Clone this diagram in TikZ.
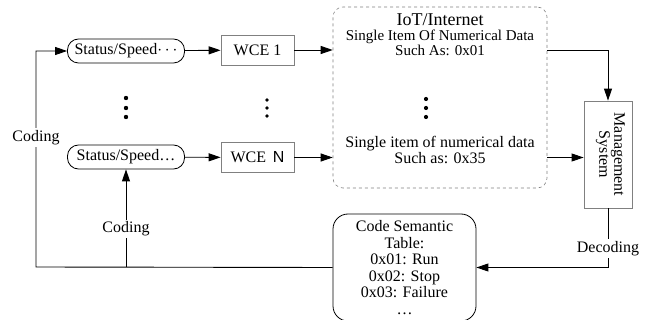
\documentclass[tikz,border=0pt]{standalone}
\usepackage{fontspec}
\setmainfont{Liberation Serif}
\newfontfamily\arialfont{Liberation Sans}
\usetikzlibrary{arrows.meta, positioning, calc}

\begin{document}
\begin{tikzpicture}[x=1pt, y=-1pt,
    font=\fontsize{16}{17}\selectfont,
    every node/.style={inner sep=0pt},
    arr/.style={-{Triangle[length=12pt, width=8pt]}, line width=0.9pt},
    pill/.style={draw, rounded corners=11pt, minimum width=117pt,
                 minimum height=24pt, line width=0.8pt},
    wce/.style={draw=gray, minimum width=73pt, minimum height=30pt, line width=0.8pt},
    lbl/.style={fill=white, inner sep=2pt}]
  \useasboundingbox (0,0) rectangle (652,320);

  % sources and encoders
  \node[pill] (s1) at (126,51) {Status/Speed$\cdots$};
  \node[wce] (w1) at (257.5,50) {WCE 1};
  \node[pill] (sN) at (126,157) {Status/Speed…};
  \node[wce] (wN) at (257.5,157.5) {WCE\ \,{\arialfont N}};

  % network
  \node[draw=gray, dashed, rounded corners=10pt, minimum width=214pt,
        minimum height=181pt, line width=0.6pt] (iot) at (440,97.5) {};
  \node[align=center, font=\fontsize{15}{15}\selectfont] (iothead) at (440,35)
    {{\fontsize{18}{15}\selectfont IoT/Internet}\\Single Item Of Numerical Data\\Such As: 0x01};
  \node[align=center, font=\fontsize{16}{16}\selectfont] (iotfoot) at (440,150)
    {Single item of numerical data\\Such as: 0x35};

  \foreach \y in {98,108,117} \fill (126,\y) circle[radius=2.2pt];
  \foreach \y in {100,108,116} \fill (267,\y) circle[radius=1.8pt];
  \foreach \y in {99,108,117} \fill (426,\y) circle[radius=2.1pt];

  % management side
  \node[draw=gray, minimum width=48pt, minimum height=107pt, line width=0.8pt] (ms) at (608,154.5) {};
  \node[rotate=-90, align=center, font=\fontsize{16}{15}\selectfont] (mstxt) at (610.5,154.5)
    {Management\\System};
  \node[draw, rounded corners=15pt, minimum width=143pt, minimum height=107pt,
        align=center, font=\fontsize{16}{16.6}\selectfont, line width=0.8pt] (cst) at (404.5,267.5)
    {Code Semantic\\Table:\\0x01: Run\\0x02: Stop\\0x03: Failure\\…};

  \coordinate (fbk) at (36,267);

  \draw[arr] (s1) -- (w1);
  \draw[arr] (sN) -- (wN);
  \draw[arr] (w1.east) -- (iot.west |- w1);
  \draw[arr] (wN.east) -- (iot.west |- wN);
  \draw[arr] (iot.east |- w1) -| (ms.north);
  \draw[arr] (iot.east |- wN) -- (ms.west |- wN);
  \draw[arr] (ms.south) |- node[lbl, pos=0.34] (dec) {Decoding} (cst.east);
  \draw[arr] (cst.west) -- (fbk) |- node[lbl, pos=0.3] (cod1) {Coding} (s1.west);
  \draw[arr] (sN.south |- fbk) -- node[lbl, pos=0.39] (cod2) {Coding} (sN.south);
\end{tikzpicture}
\end{document}
